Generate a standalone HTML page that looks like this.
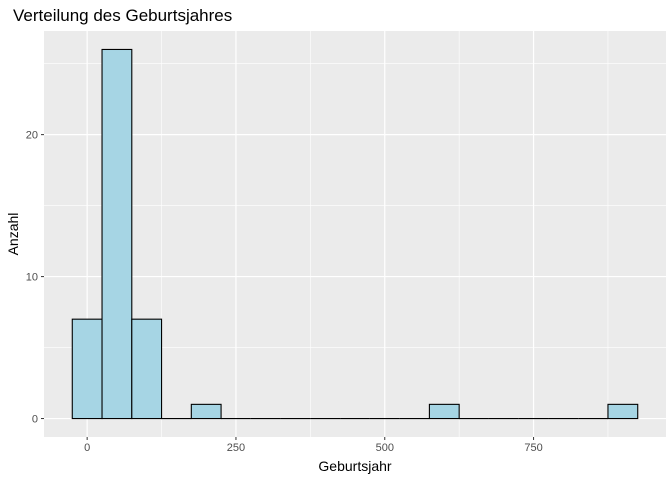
<!DOCTYPE html>
<html><head><meta charset="utf-8"><style>
body{margin:0;background:#fff;font-family:"Liberation Sans",Arial,sans-serif}
</style></head><body>
<svg width="672" height="480" xmlns="http://www.w3.org/2000/svg" font-family="Liberation Sans, Arial, sans-serif">
<text x="13" y="21" font-size="17" fill="#000">Verteilung des Geburtsjahres</text>
<rect x="44" y="31" width="622" height="406" fill="#EBEBEB"/>
<g id="grid"></g>
<g id="bars"></g>
<g id="axes"></g>
<text x="355" y="471" font-size="14" text-anchor="middle">Geburtsjahr</text>
<text transform="translate(18,234) rotate(-90)" font-size="14" text-anchor="middle">Anzahl</text>
</svg>
<script>
const binCenters=[0,50,100,150,200,250,300,350,400,450,500,550,600,650,700,750,800,850,900];
const counts=[7,26,7,0,1,0,0,0,0,0,0,0,1,0,0,0,0,0,1];
const xTicks=[0,250,500,750];
const xMinor=[125,375,625,875];
const yTicks=[0,10,20];
const yMinor=[5,15,25];
const binWidth=50;
const NS="http://www.w3.org/2000/svg";
const X0=44,X1=666,Y0=437,Y1=31;
const xmin=-72.5,xmax=972.5,ymin=-1.3,ymax=27.3;
const sx=v=>X0+(v-xmin)/(xmax-xmin)*(X1-X0);
const sy=v=>Y0-(v-ymin)/(ymax-ymin)*(Y0-Y1);
function mk(t,a,p){const e=document.createElementNS(NS,t);for(const k in a)e.setAttribute(k,a[k]);p.appendChild(e);return e;}
const g=document.getElementById('grid'),b=document.getElementById('bars'),ax=document.getElementById('axes');
xMinor.forEach(v=>{const l=mk('line',{x1:sx(v),x2:sx(v),y1:Y1,y2:Y0,stroke:'#fff','stroke-width':0.6},g);

});
yMinor.forEach(v=>{const l=mk('line',{x1:X0,x2:X1,y1:sy(v),y2:sy(v),stroke:'#fff','stroke-width':0.6},g);

});
xTicks.forEach(v=>{const l=mk('line',{x1:sx(v),x2:sx(v),y1:Y1,y2:Y0,stroke:'#fff','stroke-width':1.2},g);


const t=mk('line',{x1:sx(v),x2:sx(v),y1:Y0,y2:Y0+3,stroke:'#333'},ax);


const tx=mk('text',{x:sx(v),y:Y0+14,'font-size':11,'text-anchor':'middle',fill:'#4D4D4D'},ax);tx.textContent=v;

});
yTicks.forEach(v=>{const l=mk('line',{x1:X0,x2:X1,y1:sy(v),y2:sy(v),stroke:'#fff','stroke-width':1.2},g);


const t=mk('line',{x1:X0-3,x2:X0,y1:sy(v),y2:sy(v),stroke:'#333'},ax);


const tx=mk('text',{x:X0-6,y:sy(v)+4,'font-size':11,'text-anchor':'end',fill:'#4D4D4D'},ax);tx.textContent=v;

});
binCenters.forEach((c,i)=>{const x1=sx(c-binWidth/2),x2=sx(c+binWidth/2),yt=sy(counts[i]),yb=sy(0);
if(counts[i]===0){
const z=mk('line',{x1:x1,x2:x2,y1:yb,y2:yb,stroke:'#000','stroke-width':1.1},b);


return;}
const r=mk('rect',{x:x1,y:yt,width:x2-x1,height:yb-yt,fill:'#A6D5E4',stroke:'#000','stroke-width':1.1},b);

});
</script>
</body></html>
